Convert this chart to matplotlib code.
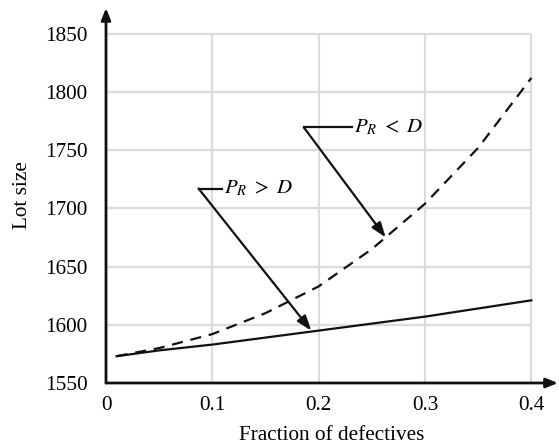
import matplotlib.pyplot as plt

# values
frac = [0.01, 0.05, 0.1, 0.15, 0.2, 0.25, 0.3, 0.35, 0.4]
lot_pr_greater = [1573, 1578, 1583, 1589, 1595, 1601, 1607, 1614, 1621]
lot_pr_less = [1573, 1580, 1592, 1610, 1633, 1665, 1704, 1752, 1812]

xticks = [0, 0.1, 0.2, 0.3, 0.4]
yticks = [1550, 1600, 1650, 1700, 1750, 1800, 1850]
xtick_labels = ['0', '0.1', '0.2', '0.3', '0.4']

plt.rcParams['font.family'] = ['Liberation Serif', 'DejaVu Serif']
plt.rcParams['mathtext.fontset'] = 'stix'

fig = plt.figure(figsize=(5.59, 4.44), dpi=100)
ax = fig.add_axes([106 / 559, 61 / 444, 452 / 559, 375 / 444])
ax.set_xlim(0, 0.425)
ax.set_ylim(1550, 1872)

# grid only inside the tick range
ax.vlines(xticks[1:], yticks[0], yticks[-1], color='#dcdcdc', lw=1.6, zorder=0)
ax.hlines(yticks[1:], xticks[0], xticks[-1], color='#dcdcdc', lw=1.6, zorder=0)

ax.plot(frac, lot_pr_greater, color='#111111', lw=1.6)
ax.plot(frac, lot_pr_less, color='#111111', lw=1.6, ls=(0, (5, 3.5)))

for s in ax.spines.values():
    s.set_visible(False)

# axis arrows
arrow_kw = dict(arrowstyle='-|>,head_length=0.7,head_width=0.28', color='#111111', lw=2,
                shrinkA=0, shrinkB=0)
ax.annotate('', xy=(0, 1872), xytext=(0, 1550), arrowprops=arrow_kw, annotation_clip=False)
ax.annotate('', xy=(0.425, 1550), xytext=(0, 1550), arrowprops=arrow_kw, annotation_clip=False)

ax.set_xticks(xticks)
ax.set_xticklabels(xtick_labels)
ax.set_yticks(yticks)
ax.tick_params(length=0, labelsize=15.3)
ax.tick_params(axis='x', pad=9)
ax.tick_params(axis='y', pad=13.5)
ax.set_xlabel('Fraction of defectives', fontsize=15.3, labelpad=8)
ax.set_ylabel('Lot size', fontsize=15.3, labelpad=9)

# callouts
call_kw = dict(arrowstyle='-|>,head_length=0.9,head_width=0.32', color='#111111', lw=1.6,
               shrinkA=0, shrinkB=0)
ax.plot([0.087, 0.109], [1717, 1717], color='#111111', lw=1.6)
ax.annotate('', xy=(0.193, 1595), xytext=(0.087, 1717), arrowprops=call_kw)
ax.text(0.111, 1717, r'$P_R\ >\ D$', fontsize=15, va='center', ha='left')

ax.plot([0.186, 0.231], [1769.5, 1769.5], color='#111111', lw=1.6)
ax.annotate('', xy=(0.263, 1675), xytext=(0.186, 1769.5), arrowprops=call_kw)
ax.text(0.233, 1769.5, r'$P_R\ <\ D$', fontsize=15, va='center', ha='left')

fig.savefig('out.png', dpi=100)
